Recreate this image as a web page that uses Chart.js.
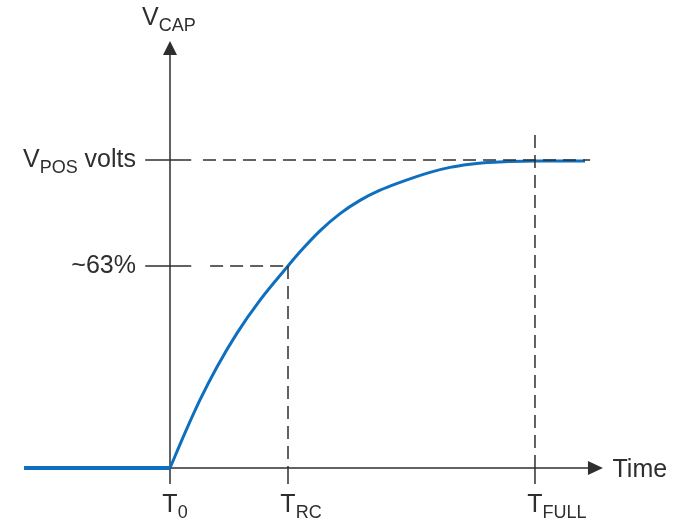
<!DOCTYPE html>
<html>
<head>
<meta charset="utf-8">
<script src="https://cdn.jsdelivr.net/npm/chart.js@4.4.0/dist/chart.umd.min.js"></script>
<style>
  body { margin: 0; background: #fff; }
  canvas { display: block; }
</style>
</head>
<body>
<canvas id="capChart" width="682" height="524"></canvas>
<script>
// time in RC time constants, voltage as a fraction of VPOS
let flatTime = [-1.237, 0];
let flatVolts = [0, 0];

let curveTime = [0, 0.127, 0.254, 0.398, 0.568, 0.763, 1.0, 1.102, 1.271, 1.441, 1.61, 1.78, 1.932, 2.203, 2.373, 2.542, 2.686, 2.864, 3.093, 3.517];
let curveVolts = [0, 0.114, 0.221, 0.328, 0.438, 0.545, 0.656, 0.702, 0.77, 0.826, 0.869, 0.902, 0.925, 0.96, 0.976, 0.986, 0.992, 0.995, 0.997, 0.997];

// marks on the time axis: T0, TRC, TFULL
let tickTimes = [0, 1, 3.093];
let tickMain = ["T", "T", "T"];
let tickSubs = ["0", "RC", "FULL"];

// marks on the voltage axis: VPOS volts, ~63%
let levelVolts = [1, 0.656];
let levelMain = ["V", "~63%"];
let levelSubs = ["POS", ""];
let levelTails = [" volts", ""];

let yTitle = ["V", "CAP"];
let xTitle = "Time";

const INK = "#2e2e2e";
const FONT = "'Liberation Sans', Arial, sans-serif";

function toPoints(xs, ys) {
    return xs.map((x, i) => ({ x: x, y: ys[i] }));
}

/**
 * Write a label made of a big part, a subscript and a tail.
 * x is the left edge, y the baseline of the big part.
 */
function drawSubText(ctx, x, y, main, sub, tail) {
    ctx.font = "25px " + FONT;
    ctx.fillText(main, x, y);
    x += ctx.measureText(main).width;
    if (sub) {
        ctx.font = "18px " + FONT;
        ctx.fillText(sub, x, y + 6);
        x += ctx.measureText(sub).width;
    }
    if (tail) {
        ctx.font = "25px " + FONT;
        ctx.fillText(tail, x, y);
        x += ctx.measureText(tail).width;
    }
    return x;
}

function textWidth(ctx, main, sub, tail) {
    ctx.font = "25px " + FONT;
    let w = ctx.measureText(main).width + ctx.measureText(tail || "").width;
    ctx.font = "18px " + FONT;
    w += ctx.measureText(sub || "").width;
    return w;
}

function line(ctx, x1, y1, x2, y2, dash) {
    ctx.save();
    ctx.setLineDash(dash || []);
    ctx.beginPath();
    ctx.moveTo(x1, y1);
    ctx.lineTo(x2, y2);
    ctx.stroke();
    ctx.restore();
}

/**
 * Axes with arrows go under the curve, guides and labels on top
 */
const axesPlugin = {
    id: "axesPlugin",
    beforeDatasetsDraw(chart) {
        const ctx = chart.ctx;
        const xs = chart.scales.x;
        const ys = chart.scales.y;
        const x0 = xs.getPixelForValue(0);
        const y0 = ys.getPixelForValue(0);

        ctx.save();
        ctx.strokeStyle = INK;
        ctx.fillStyle = INK;
        ctx.lineWidth = 1.5;

        // vertical axis, runs a little below the time axis as the T0 tick
        const yTip = ys.getPixelForValue(1.386);
        line(ctx, x0, ys.getPixelForValue(-0.052), x0, yTip + 10);
        ctx.beginPath();
        ctx.moveTo(x0, yTip);
        ctx.lineTo(x0 - 7, yTip + 14);
        ctx.lineTo(x0 + 7, yTip + 14);
        ctx.closePath();
        ctx.fill();

        // time axis
        const xTip = xs.getPixelForValue(3.669);
        line(ctx, xs.getPixelForValue(-0.21), y0, xTip - 10, y0);
        ctx.beginPath();
        ctx.moveTo(xTip, y0);
        ctx.lineTo(xTip - 15, y0 - 7);
        ctx.lineTo(xTip - 15, y0 + 7);
        ctx.closePath();
        ctx.fill();
        ctx.restore();
    },

    afterDatasetsDraw(chart) {
        const ctx = chart.ctx;
        const xs = chart.scales.x;
        const ys = chart.scales.y;
        const x0 = xs.getPixelForValue(0);
        const y0 = ys.getPixelForValue(0);
        const dash = [13, 7];

        ctx.save();
        ctx.strokeStyle = INK;
        ctx.fillStyle = INK;
        ctx.lineWidth = 1.5;
        ctx.textBaseline = "alphabetic";

        // level guides: solid tick across the axis, then dashes
        let dashStart = [0.28, 0.34];
        let dashEnd = [3.56, 1];
        levelVolts.forEach((v, i) => {
            const py = ys.getPixelForValue(v);
            line(ctx, xs.getPixelForValue(-0.21), py, xs.getPixelForValue(0.18), py);
            line(ctx, xs.getPixelForValue(dashStart[i]), py, xs.getPixelForValue(dashEnd[i]), py, dash);
            const w = textWidth(ctx, levelMain[i], levelSubs[i], levelTails[i]);
            drawSubText(ctx, 136 - w, py + 7, levelMain[i], levelSubs[i], levelTails[i]);
        });

        // time guides: dashes above the axis, solid tick below
        let guideTop = [0, 0.656, 1.081];
        tickTimes.forEach((t, i) => {
            const px = xs.getPixelForValue(t);
            if (i > 0) {
                line(ctx, px, ys.getPixelForValue(guideTop[i]), px, y0, dash);
                line(ctx, px, y0, px, ys.getPixelForValue(-0.052));
            }
            ctx.font = "25px " + FONT;
            const tw = ctx.measureText(tickMain[i]).width;
            drawSubText(ctx, px - tw / 2, y0 + 44, tickMain[i], tickSubs[i], "");
        });

        // axis titles
        drawSubText(ctx, x0 - 28, 25, yTitle[0], yTitle[1], "");
        ctx.font = "25px " + FONT;
        ctx.fillText(xTitle, xs.getPixelForValue(3.75), y0 + 9);
        ctx.restore();
    }
};

new Chart(document.getElementById("capChart"), {
    type: "scatter",
    data: {
        datasets: [{
            data: toPoints(flatTime, flatVolts),
            showLine: true,
            borderColor: "#0f6fbf",
            borderWidth: 4,
            pointRadius: 0
        }, {
            data: toPoints(curveTime, curveVolts),
            showLine: true,
            borderColor: "#0f6fbf",
            borderWidth: 3,
            pointRadius: 0,
            cubicInterpolationMode: "monotone"
        }]
    },
    options: {
        responsive: false,
        animation: false,
        devicePixelRatio: 1,
        layout: { padding: { left: 22.5, right: 40, top: 30.64, bottom: 9.8 } },
        plugins: {
            legend: { display: false },
            tooltip: { enabled: false }
        },
        scales: {
            x: { type: "linear", min: -1.25, max: 4.0, display: false },
            y: { type: "linear", min: -0.15, max: 1.42, display: false }
        }
    },
    plugins: [axesPlugin]
});
</script>
</body>
</html>
